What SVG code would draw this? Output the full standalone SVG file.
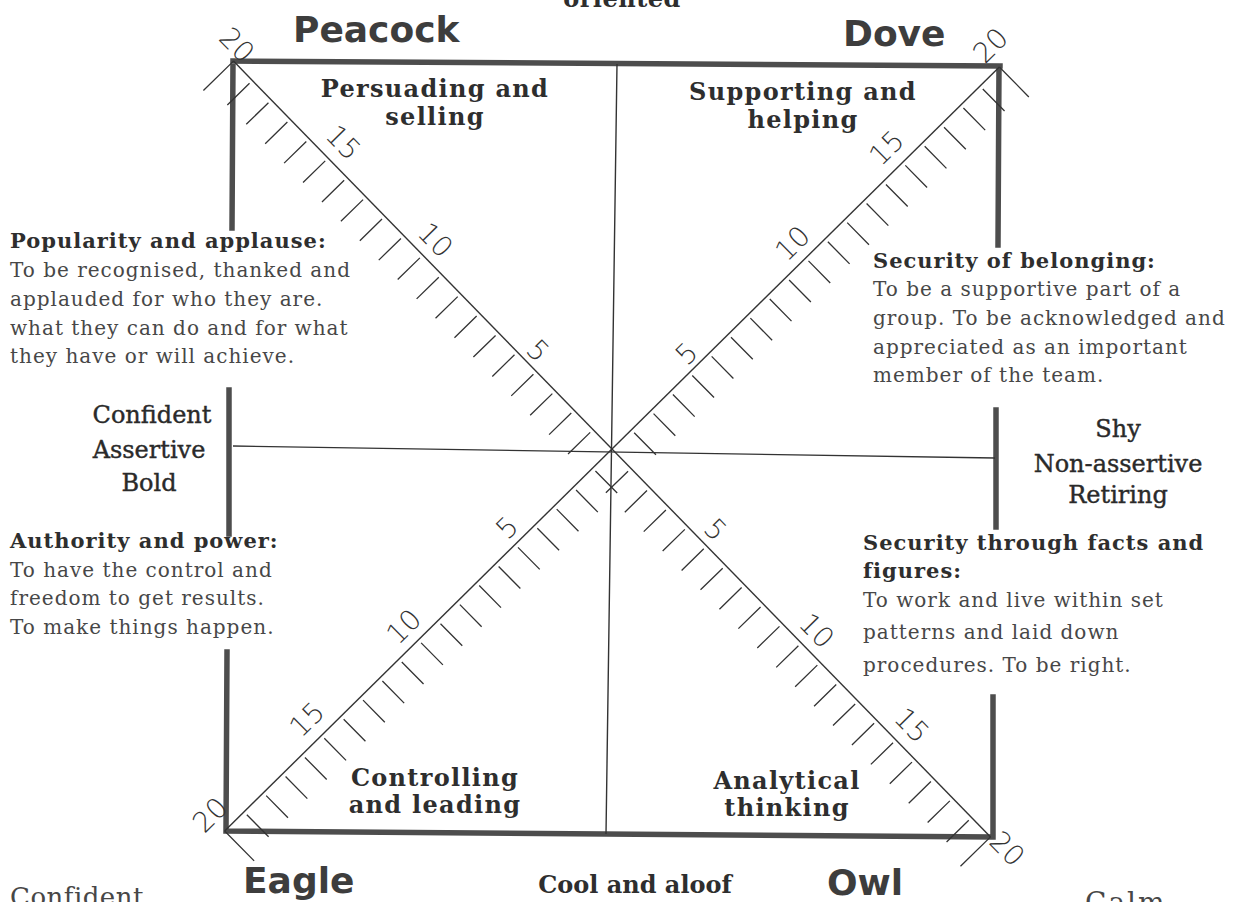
<svg xmlns="http://www.w3.org/2000/svg" width="1233" height="902" viewBox="0 0 1233 902">
<style>
.animal{font-family:"DejaVu Sans","Liberation Sans",sans-serif;font-weight:bold;font-size:36px;fill:#3d3d3d}
.quad{font-family:"DejaVu Serif","Liberation Serif",serif;font-weight:bold;font-size:24px;letter-spacing:1.3px;fill:#2e2e2e;text-anchor:middle}
.head{font-family:"DejaVu Serif","Liberation Serif",serif;font-weight:bold;font-size:21px;letter-spacing:1px;fill:#2e2e2e}
.body{font-family:"DejaVu Serif","Liberation Serif",serif;font-size:20px;letter-spacing:1px;fill:#474747}
.side{font-family:"DejaVu Serif","Liberation Serif",serif;font-size:24px;fill:#2a2a2a;stroke:#2a2a2a;stroke-width:0.4;text-anchor:middle}
.num{font-family:"DejaVu Sans","Liberation Sans",sans-serif;font-weight:200;font-size:28px;fill:#333;text-anchor:middle}
.thick{stroke:#4d4d4d;stroke-width:5.5;fill:none;stroke-linecap:square}
.thin{stroke:#333;stroke-width:1.4;fill:none}
.tick{stroke:#333;stroke-width:1.3;fill:none}
</style>
<rect width="1233" height="902" fill="#fff"/>
<g id="frame">
<path class="thick" d="M233,61 L1000,66 M233,61 L232,228 M229,390 L229,534 M227,652 L226,831 M226,831 L993,837 M999,66 L998,245 M996,410 L996,527 M993,697 L993,837"/>
<path class="thin" d="M617,64 L606,834 M233,446 L995,458"/>
</g>
<g id="connectors">
<g id="diag-peacock-owl" transform="translate(612,449) rotate(45.7)">
<path class="thin" d="M-542,0 H542"/>
<path class="tick" d="M27.1,4V35M54.2,4V35M81.3,4V35M108.4,4V35M135.5,4V35M162.6,4V35M189.7,4V35M216.8,4V35M243.9,4V35M271,4V35M298.1,4V35M325.2,4V35M352.3,4V35M379.4,4V35M406.5,4V35M433.6,4V35M460.7,4V35M487.8,4V35M514.9,4V35M542,0V42M-27.1,4V35M-54.2,4V35M-81.3,4V35M-108.4,4V35M-135.5,4V35M-162.6,4V35M-189.7,4V35M-216.8,4V35M-243.9,4V35M-271,4V35M-298.1,4V35M-325.2,4V35M-352.3,4V35M-379.4,4V35M-406.5,4V35M-433.6,4V35M-460.7,4V35M-487.8,4V35M-514.9,4V35M-542,0V42"/>
<text class="num" x="-122" y="-6">5</text>
<text class="num" x="-273" y="-10">10</text>
<text class="num" x="-407" y="-12">15</text>
<text class="num" x="-551" y="-4">20</text>
<text class="num" x="130" y="-8">5</text>
<text class="num" x="273" y="-10">10</text>
<text class="num" x="407" y="-12">15</text>
<text class="num" x="562" y="6">20</text>
</g>
<g id="diag-eagle-dove" transform="translate(612,449) rotate(-44.6)">
<path class="thin" d="M-544,0 H544"/>
<path class="tick" d="M27.2,4V35M54.4,4V35M81.6,4V35M108.8,4V35M136,4V35M163.2,4V35M190.4,4V35M217.6,4V35M244.8,4V35M272,4V35M299.2,4V35M326.4,4V35M353.6,4V35M380.8,4V35M408,4V35M435.2,4V35M462.4,4V35M489.6,4V35M516.8,4V35M544,0V42M-27.2,4V35M-54.4,4V35M-81.6,4V35M-108.8,4V35M-136,4V35M-163.2,4V35M-190.4,4V35M-217.6,4V35M-244.8,4V35M-272,4V35M-299.2,4V35M-326.4,4V35M-353.6,4V35M-380.8,4V35M-408,4V35M-435.2,4V35M-462.4,4V35M-489.6,4V35M-516.8,4V35M-544,0V42"/>
<text class="num" x="120" y="-6">5</text>
<text class="num" x="273" y="-10">10</text>
<text class="num" x="407" y="-12">15</text>
<text class="num" x="553" y="-12">20</text>
<text class="num" x="-130" y="-8">5</text>
<text class="num" x="-273" y="-10">10</text>
<text class="num" x="-407" y="-12">15</text>
<text class="num" x="-543" y="-12">20</text>
</g>
</g>
<g id="peacock">
<text class="animal" x="293" y="42">Peacock</text>
<text class="quad" x="435" y="97">Persuading and</text>
<text class="quad" x="435" y="125">selling</text>
</g>
<g id="dove">
<text class="animal" x="843" y="46">Dove</text>
<text class="quad" x="803" y="100">Supporting and</text>
<text class="quad" x="803" y="128">helping</text>
</g>
<g id="eagle">
<text class="animal" x="243" y="893">Eagle</text>
<text class="quad" x="435" y="786">Controlling</text>
<text class="quad" x="435" y="813">and leading</text>
</g>
<g id="owl">
<text class="animal" x="827" y="895">Owl</text>
<text class="quad" x="787" y="789">Analytical</text>
<text class="quad" x="787" y="816">thinking</text>
</g>
<g id="popularity">
<text class="head" x="10" y="248">Popularity and applause:</text>
<text class="body" x="10" y="277">To be recognised, thanked and</text>
<text class="body" x="10" y="306">applauded for who they are.</text>
<text class="body" x="10" y="335">what they can do and for what</text>
<text class="body" x="10" y="363">they have or will achieve.</text>
</g>
<g id="confident-side">
<text class="side" x="152" y="423">Confident</text>
<text class="side" x="149" y="458">Assertive</text>
<text class="side" x="149" y="491">Bold</text>
</g>
<g id="authority">
<text class="head" x="10" y="548">Authority and power:</text>
<text class="body" x="10" y="577">To have the control and</text>
<text class="body" x="10" y="605">freedom to get results.</text>
<text class="body" x="10" y="634">To make things happen.</text>
</g>
<g id="belonging">
<text class="head" x="873" y="268">Security of belonging:</text>
<text class="body" x="873" y="296">To be a supportive part of a</text>
<text class="body" x="873" y="325">group. To be acknowledged and</text>
<text class="body" x="873" y="354">appreciated as an important</text>
<text class="body" x="873" y="382">member of the team.</text>
</g>
<g id="shy-side">
<text class="side" x="1118" y="437">Shy</text>
<text class="side" x="1118" y="472">Non-assertive</text>
<text class="side" x="1118" y="503">Retiring</text>
</g>
<g id="facts">
<text class="head" x="863" y="550">Security through facts and</text>
<text class="head" x="863" y="578">figures:</text>
<text class="body" x="863" y="607">To work and live within set</text>
<text class="body" x="863" y="639">patterns and laid down</text>
<text class="body" x="863" y="672">procedures. To be right.</text>
</g>
<g id="edges">
<text class="quad" x="622" y="7" style="letter-spacing:0.5px">oriented</text>
<text class="quad" x="635" y="893" style="letter-spacing:0">Cool and aloof</text>
<text class="body" x="10" y="906" style="font-size:26px;letter-spacing:0.5px">Confident</text>
<text class="body" x="1085" y="912" style="font-size:28px;letter-spacing:2px">Calm</text>
</g>
</svg>
